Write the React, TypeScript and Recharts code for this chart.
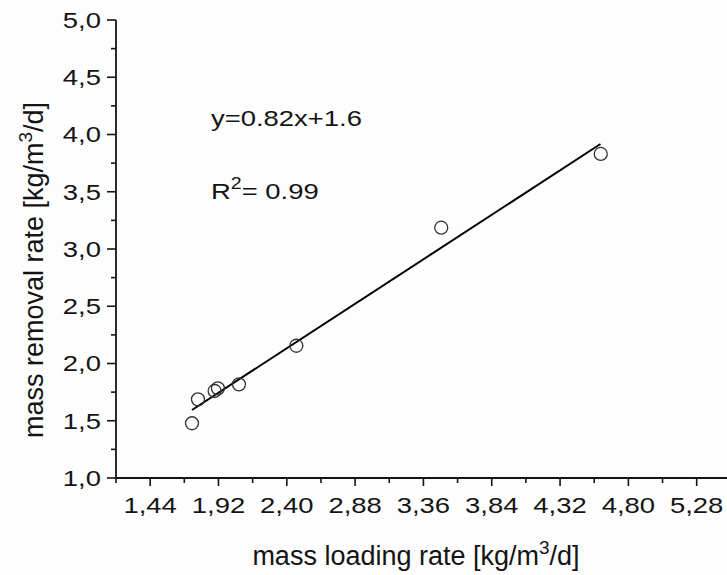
import { ScatterChart, Scatter, XAxis, YAxis } from 'recharts';

// measured points
const loadingRate = [1.734, 1.776, 1.893, 1.916, 2.064, 2.467, 3.485, 4.606];
const removalRate = [1.478, 1.687, 1.76, 1.783, 1.818, 2.155, 3.186, 3.83];

// fitted line end points
const fitX = [1.734, 4.604];
const fitY = [1.594, 3.917];

const xMajorTicks = [1.44, 1.92, 2.4, 2.88, 3.36, 3.84, 4.32, 4.8, 5.28];
const xMinorTicks = [1.2, 1.68, 2.16, 2.64, 3.12, 3.6, 4.08, 4.56, 5.04];
const yMajorTicks = [1, 1.5, 2, 2.5, 3, 3.5, 4, 4.5, 5];
const yMinorTicks = [1.25, 1.75, 2.25, 2.75, 3.25, 3.75, 4.25, 4.75];
const frameTicks = [0, 1, 2, 3, 4, 5, 6, 7, 8, 9, 10];

const points = loadingRate.map((x, i) => ({ x, y: removalRate[i] }));
const fitLine = fitX.map((x, i) => ({ x, y: fitY[i] }));

const FONT = '"Liberation Sans", Arial, sans-serif';
const INK = '#141414';
const STRETCH = 1.22;
const SIZE = 22.5;

const isIn = (v: number, arr: number[]) => arr.some((a) => Math.abs(a - v) < 1e-6);

const XTick = ({ x, y, payload }: any) => {
  const major = isIn(payload.value, xMajorTicks);
  return (
    <g>
      <line x1={x} x2={x} y1={y} y2={y + (major ? 8 : 5)} stroke={INK} strokeWidth={1.6} />
      {major && (
        <text
          x={x}
          y={y + 35.5}
          textAnchor="middle"
          fontSize={SIZE}
          fontFamily={FONT}
          fill={INK}
          transform={`translate(${x} 0) scale(${STRETCH} 1) translate(${-x} 0)`}
        >
          {payload.value.toFixed(2).replace('.', ',')}
        </text>
      )}
    </g>
  );
};

const YTick = ({ x, y, payload }: any) => {
  const major = isIn(payload.value, yMajorTicks);
  const ax = x - 15;
  return (
    <g>
      <line x1={x} x2={x - (major ? 9 : 5)} y1={y} y2={y} stroke={INK} strokeWidth={1.6} />
      {major && (
        <text
          x={ax}
          y={y + 8}
          textAnchor="end"
          fontSize={SIZE}
          fontFamily={FONT}
          fill={INK}
          transform={`translate(${ax} 0) scale(${STRETCH} 1) translate(${-ax} 0)`}
        >
          {payload.value.toFixed(1).replace('.', ',')}
        </text>
      )}
    </g>
  );
};

const TopTick = ({ x, y, payload }: any) => {
  const long = payload.value % 2 === 0;
  return <line x1={x} x2={x} y1={y} y2={y + (long ? 9 : 4)} stroke={INK} strokeWidth={1.6} />;
};

const RightTick = ({ x, y, payload }: any) => {
  const long = payload.value % 2 === 0;
  return <line x1={x} x2={x - (long ? 9 : 4)} y1={y} y2={y} stroke={INK} strokeWidth={1.6} />;
};

const Ring = ({ cx, cy }: any) => <circle cx={cx} cy={cy} r={6.5} fill="none" stroke="#333" strokeWidth={1.3} />;

export default function App() {
  return (
    <div style={{ position: 'fixed', left: 0, top: 0, width: 727, height: 575, overflow: 'hidden', background: '#fdfdfd' }}>
      <ScatterChart width={740} height={575} margin={{ top: 20, right: 12, left: 0, bottom: 0 }}>
        <XAxis
          xAxisId="x"
          type="number"
          dataKey="x"
          domain={[1.2, 5.5]}
          ticks={[...xMinorTicks, ...xMajorTicks]}
          interval={0}
          height={97}
          tickSize={0}
          tickMargin={0}
          tick={<XTick />}
          axisLine={{ stroke: INK, strokeWidth: 1.8 }}
          allowDataOverflow
        />
        <XAxis
          xAxisId="top"
          orientation="top"
          type="number"
          domain={[0, 10]}
          ticks={frameTicks}
          interval={0}
          height={0}
          tickSize={0}
          tickMargin={0}
          tick={<TopTick />}
          axisLine={{ stroke: INK, strokeWidth: 1.8 }}
          allowDataOverflow
        />
        <YAxis
          yAxisId="y"
          type="number"
          dataKey="y"
          domain={[1, 5]}
          ticks={[...yMinorTicks, ...yMajorTicks]}
          interval={0}
          width={116}
          tickSize={0}
          tickMargin={0}
          tick={<YTick />}
          axisLine={{ stroke: INK, strokeWidth: 1.8 }}
          allowDataOverflow
        />
        <YAxis
          yAxisId="right"
          orientation="right"
          type="number"
          domain={[0, 10]}
          ticks={frameTicks}
          interval={0}
          width={0}
          tickSize={0}
          tickMargin={0}
          tick={<RightTick />}
          axisLine={{ stroke: INK, strokeWidth: 1.8 }}
          allowDataOverflow
        />
        <Scatter
          xAxisId="x"
          yAxisId="y"
          data={fitLine}
          line={{ stroke: '#000', strokeWidth: 2 }}
          shape={() => <g />}
          isAnimationActive={false}
        />
        <Scatter xAxisId="x" yAxisId="y" data={points} shape={<Ring />} isAnimationActive={false} />
      </ScatterChart>

      <svg width={727} height={575} style={{ position: 'absolute', left: 0, top: 0, pointerEvents: 'none' }}>
        <g fontFamily={FONT} fill={INK}>
          <text x={211} y={126} fontSize={SIZE} transform={`translate(211 0) scale(${STRETCH} 1) translate(-211 0)`}>
            y=0.82x+1.6
          </text>
          <text x={211} y={199} fontSize={SIZE} transform={`translate(211 0) scale(${STRETCH} 1) translate(-211 0)`}>
            R<tspan fontSize={16} dy={-10}>2</tspan>
            <tspan dy={10}>= 0.99</tspan>
          </text>
          <text x={416} y={565} fontSize={27} textAnchor="middle">
            mass loading rate [kg/m<tspan fontSize={19} dy={-11}>3</tspan>
            <tspan dy={11}>/d]</tspan>
          </text>
          <text x={0} y={0} fontSize={27} textAnchor="middle" transform="translate(43 270) rotate(-90)">
            mass removal rate [kg/m<tspan fontSize={19} dy={-11}>3</tspan>
            <tspan dy={11}>/d]</tspan>
          </text>
        </g>
      </svg>
    </div>
  );
}
